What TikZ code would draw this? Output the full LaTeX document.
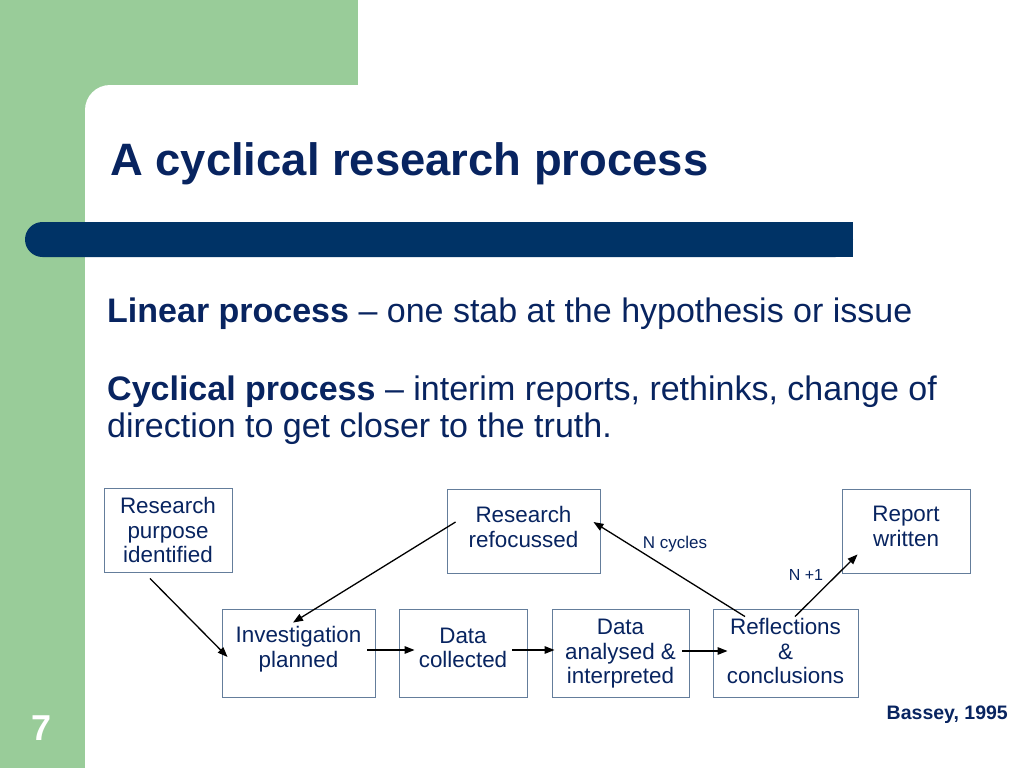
\documentclass[tikz,border=0pt]{standalone}
\usepackage{fontspec}
\setmainfont{Liberation Sans}
\usetikzlibrary{arrows.meta}
\usetikzlibrary{calc}

\definecolor{slidegreen}{RGB}{153,204,153}
\definecolor{barnavy}{RGB}{0,51,102}
\definecolor{textnavy}{RGB}{8,36,96}
\definecolor{boxline}{RGB}{100,125,155}

\tikzset{
	stagebox/.style={draw=boxline, line width=0.9pt, inner sep=0pt},
	stagetext/.style={text=textnavy, align=center, font=\fontsize{22.4}{24.5}\selectfont, inner sep=0pt},
	flow/.style={-{Triangle[length=10pt,width=7.5pt]}, line width=1.3pt},
	cyclabel/.style={text=textnavy, inner sep=0pt}
}

\begin{document}
\begin{tikzpicture}[x=1pt,y=-1pt]
		\useasboundingbox (0,0) rectangle (1024,768);
		\fill[white] (0,0) rectangle (1024,768);
		\fill[slidegreen] (0,0) rectangle (358,120);
		\fill[slidegreen] (0,0) rectangle (85,768);
		\fill[white, rounded corners=25] (85,85) rectangle (1100,850);
		\fill[barnavy, rounded corners=17.5] (25,222) rectangle (853,257);
		\fill[barnavy] (800,222) rectangle (853,257);
		\node[anchor=base west, inner sep=0pt, text=textnavy, font=\fontsize{45.4}{50}\selectfont\bfseries] (title) at (110,175) {A cyclical research process};
		\node[anchor=base west, inner sep=0pt, text=textnavy, font=\fontsize{34}{37}\selectfont] (linear) at (107,322) {\textbf{Linear process} -- one stab at the hypothesis or issue};
		\node[anchor=base west, inner sep=0pt, text=textnavy, font=\fontsize{34}{37}\selectfont] (cyclic) at (107,400) {\textbf{Cyclical process} -- interim reports, rethinks, change of};
		\node[anchor=base west, inner sep=0pt, text=textnavy, font=\fontsize{34}{37}\selectfont] (cyclic2) at (107,437) {direction to get closer to the truth.};
		% stages
		\node[stagebox, minimum width=128, minimum height=84] (rp) at (168,530) {};
		\node[stagebox, minimum width=153, minimum height=84] (rr) at (523.5,531) {};
		\node[stagebox, minimum width=128, minimum height=84] (rw) at (906,531) {};
		\node[stagebox, minimum width=153, minimum height=88] (ip) at (298.5,653) {};
		\node[stagebox, minimum width=128, minimum height=88] (dc) at (463,653) {};
		\node[stagebox, minimum width=137, minimum height=88] (da) at (620.5,653) {};
		\node[stagebox, minimum width=145, minimum height=88] (rc) at (785.5,653) {};
		\node[stagetext] (rptext) at (168,530) {Research\\purpose\\identified};
		\node[stagetext] (rrtext) at (523.5,527) {Research\\refocussed};
		\node[stagetext] (rwtext) at (906,526.5) {Report\\written};
		\node[stagetext] (iptext) at (298.5,649) {Investigation\\planned};
		\node[stagetext] (dctext) at (463,648) {Data\\collected};
		\node[stagetext] (datext) at (620.5,654) {Data\\analysed \&\\interpreted};
		\node[stagetext] (rctext) at (785.5,651) {Reflections\\\&\\conclusions};
		% arrows
		\draw[flow] ($(rp.south)+(-18,6)$) -- ($(ip.west)+(6,4)$);
		\draw[flow] ($(rr.west)+(9,-9)$) -- ($(ip.north)+(-5.5,14)$);
		\draw[flow] ($(ip.east)+(-8,-3)$) -- ($(dc.west)+(16,-3)$);
		\draw[flow] ($(dc.east)+(-15,-3)$) -- ($(da.west)+(3,-3)$);
		\draw[flow] ($(da.east)+(-7,-2)$) -- ($(rc.west)+(15,-2)$);
		\draw[flow] ($(rc.north)+(-40.5,8)$) -- ($(rr.east)+(-7,-9)$);
		\draw[flow] ($(rc.north)+(9.5,8)$) -- ($(rw.south west)+(16,-19)$);
		\node[cyclabel, font=\fontsize{17}{19}\selectfont] (ncyc) at (675,544) {N cycles};
		\node[cyclabel, font=\fontsize{16}{18}\selectfont] (nplus) at (806,575) {N +1};
		\node[anchor=base east, inner sep=0pt, text=textnavy, font=\fontsize{19.5}{21}\selectfont\bfseries] (src) at (1008,719) {Bassey, 1995};
		\node[anchor=base, inner sep=0pt, text=white, font=\fontsize{36}{40}\selectfont\bfseries] (pgno) at (42,740) {7};
	\end{tikzpicture}
\end{document}
